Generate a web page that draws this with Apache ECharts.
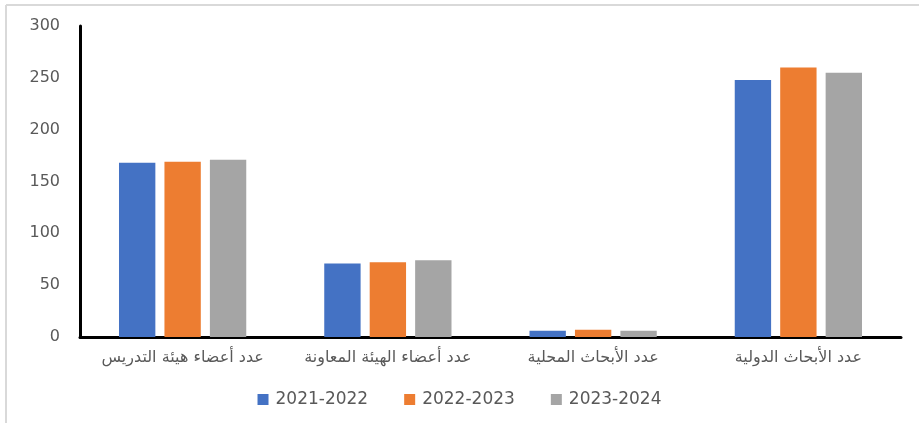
<!DOCTYPE html>
<html>
<head>
<meta charset="utf-8">
<script src="https://cdn.jsdelivr.net/npm/echarts@6/dist/echarts.min.js"></script>
<style>
html,body{margin:0;padding:0;background:#fff;}
#c{width:919px;height:425px;}
</style>
</head>
<body>
<div id="c"></div>
<script>
var categories = ["عدد أعضاء هيئة التدريس", "عدد أعضاء الهيئة المعاونة", "عدد الأبحاث المحلية", "عدد الأبحاث الدولية"];
var seriesNames = ["2021-2022", "2022-2023", "2023-2024"];
var values2021 = [168, 71, 6, 248];
var values2022 = [169, 72, 7, 260];
var values2023 = [171, 74, 6, 255];
var colors = ["#4472C4", "#ED7D31", "#A5A5A5"];

var font = "'DejaVu Sans', Verdana, sans-serif";
var chart = echarts.init(document.getElementById('c'));
var data = [values2021, values2022, values2023];
chart.setOption({
  animation: false,
  backgroundColor: '#fff',
  graphic: [
    {type: 'line', shape: {x1: 6, y1: 5, x2: 919, y2: 5}, style: {stroke: '#d9d9d9', lineWidth: 2}},
    {type: 'line', shape: {x1: 6, y1: 5, x2: 6, y2: 423}, style: {stroke: '#d9d9d9', lineWidth: 2}}
  ],
  grid: {left: 80, right: 18, top: 26, bottom: 88, containLabel: false},
  legend: {
    bottom: 12,
    left: 'center',
    itemWidth: 11,
    itemHeight: 11,
    itemGap: 36,
    icon: 'rect',
    textStyle: {fontFamily: font, fontSize: 17, color: '#595959', padding: [0, 0, 0, 2]},
    data: seriesNames
  },
  xAxis: {
    type: 'category',
    data: categories,
    axisLine: {lineStyle: {color: '#000', width: 3}},
    axisTick: {show: false},
    axisLabel: {interval: 0, hideOverlap: false, fontFamily: font, fontSize: 16, color: '#595959', margin: 13}
  },
  yAxis: {
    type: 'value',
    min: 0, max: 300, interval: 50,
    splitLine: {show: false},
    axisLine: {show: true, lineStyle: {color: '#000', width: 3}},
    axisTick: {show: false},
    axisLabel: {fontFamily: font, fontSize: 16, color: '#595959', margin: 20}
  },
  series: seriesNames.map(function (n, i) {
    return {
      name: n, type: 'bar', data: data[i],
      barGap: '25%', barCategoryGap: '38%',
      itemStyle: {color: colors[i]}
    };
  })
});
</script>
</body>
</html>
